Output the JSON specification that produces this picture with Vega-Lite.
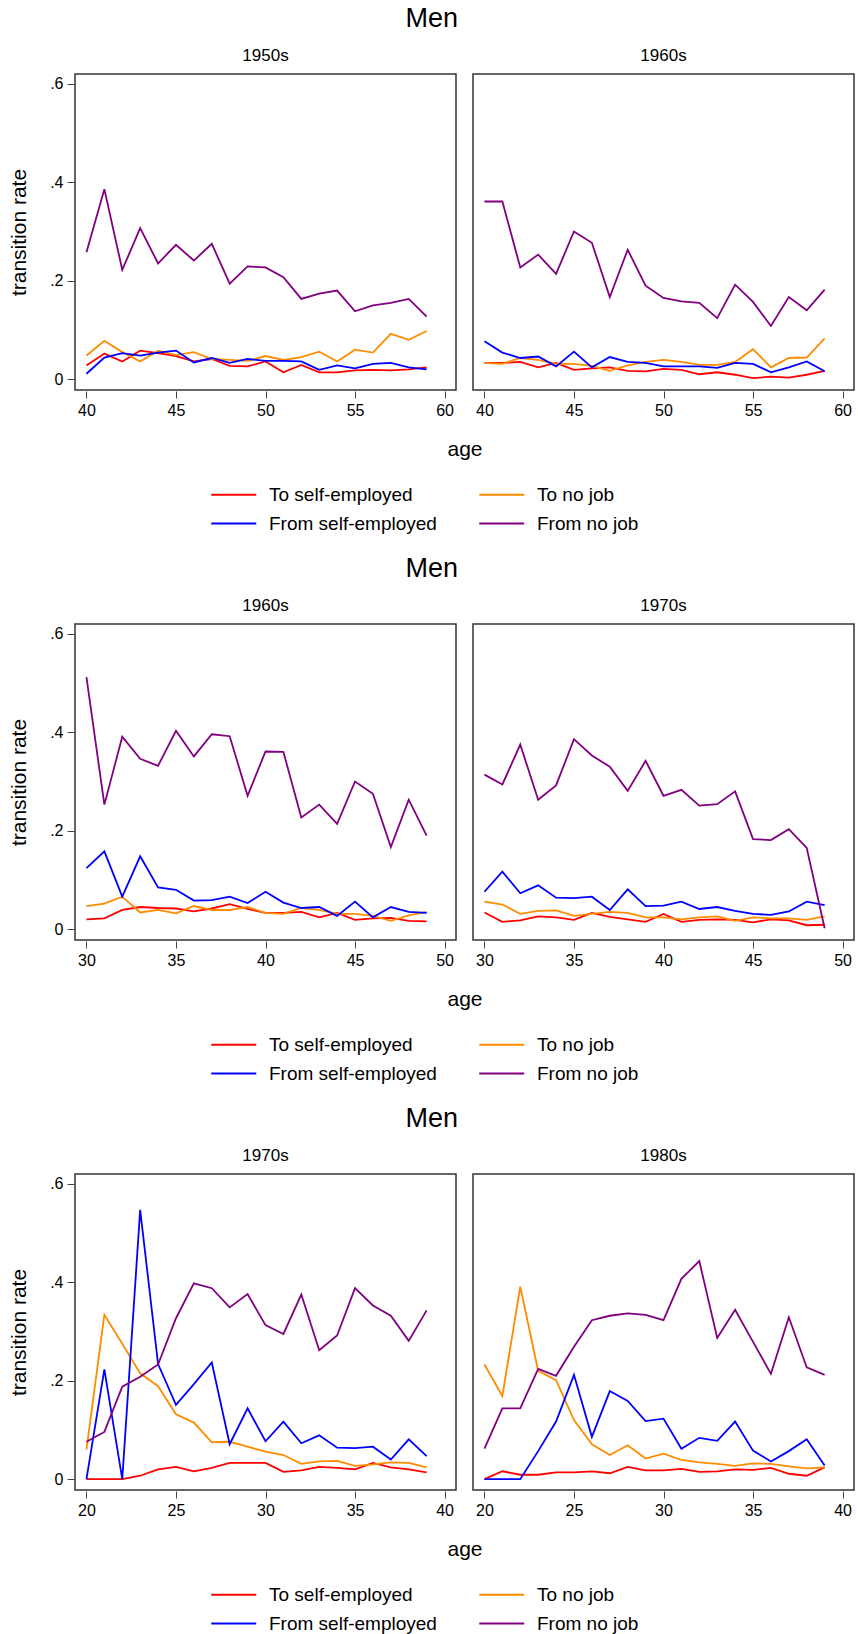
{
"$schema": "https://vega.github.io/schema/vega-lite/v6.json",
"padding": {"left": 8, "top": 5, "right": 0, "bottom": 0},
"background": "white",
"config": {
 "font": "Liberation Sans",
 "view": {"stroke": "#333333", "strokeWidth": 1.5},
 "axis": {"grid": false, "domain": false, "tickColor": "#444444", "tickSize": 7, "labelFontSize": 16, "labelColor": "#000000", "titleFontSize": 21, "titleFontWeight": "normal", "titleColor": "#000000", "labelPadding": 4},
 "title": {"fontSize": 27, "fontWeight": "normal", "color": "#000000", "offset": 14},
 "legend": {"symbolType": "M-1,0H3", "symbolSize": 506, "symbolStrokeWidth": 2, "labelFontSize": 19, "labelOffset": 34, "columns": 2, "columnPadding": 38, "rowPadding": 6, "padding": 0, "labelLimit": 300, "labelColor": "#000000"},
 "facet": {"spacing": 15},
 "concat": {"spacing": 21}
},
"data": {"values": [
{"b":1,"d":"1950s","a":40,"ts":0.028,"tn":0.048,"fs":0.011,"fn":0.258},
{"b":1,"d":"1950s","a":41,"ts":0.052,"tn":0.078,"fs":0.044,"fn":0.386},
{"b":1,"d":"1950s","a":42,"ts":0.036,"tn":0.055,"fs":0.053,"fn":0.222},
{"b":1,"d":"1950s","a":43,"ts":0.058,"tn":0.036,"fs":0.048,"fn":0.307},
{"b":1,"d":"1950s","a":44,"ts":0.053,"tn":0.058,"fs":0.054,"fn":0.235},
{"b":1,"d":"1950s","a":45,"ts":0.047,"tn":0.049,"fs":0.058,"fn":0.273},
{"b":1,"d":"1950s","a":46,"ts":0.036,"tn":0.055,"fs":0.034,"fn":0.241},
{"b":1,"d":"1950s","a":47,"ts":0.041,"tn":0.041,"fs":0.043,"fn":0.275},
{"b":1,"d":"1950s","a":48,"ts":0.027,"tn":0.039,"fs":0.033,"fn":0.194},
{"b":1,"d":"1950s","a":49,"ts":0.026,"tn":0.037,"fs":0.041,"fn":0.229},
{"b":1,"d":"1950s","a":50,"ts":0.036,"tn":0.047,"fs":0.037,"fn":0.227},
{"b":1,"d":"1950s","a":51,"ts":0.014,"tn":0.039,"fs":0.037,"fn":0.207},
{"b":1,"d":"1950s","a":52,"ts":0.029,"tn":0.045,"fs":0.036,"fn":0.163},
{"b":1,"d":"1950s","a":53,"ts":0.014,"tn":0.056,"fs":0.019,"fn":0.174},
{"b":1,"d":"1950s","a":54,"ts":0.014,"tn":0.036,"fs":0.028,"fn":0.180},
{"b":1,"d":"1950s","a":55,"ts":0.018,"tn":0.060,"fs":0.022,"fn":0.138},
{"b":1,"d":"1950s","a":56,"ts":0.019,"tn":0.054,"fs":0.031,"fn":0.150},
{"b":1,"d":"1950s","a":57,"ts":0.018,"tn":0.092,"fs":0.033,"fn":0.155},
{"b":1,"d":"1950s","a":58,"ts":0.020,"tn":0.080,"fs":0.024,"fn":0.163},
{"b":1,"d":"1950s","a":59,"ts":0.024,"tn":0.098,"fs":0.020,"fn":0.127},
{"b":1,"d":"1960s","a":40,"ts":0.033,"tn":0.033,"fs":0.077,"fn":0.361},
{"b":1,"d":"1960s","a":41,"ts":0.033,"tn":0.031,"fs":0.054,"fn":0.361},
{"b":1,"d":"1960s","a":42,"ts":0.035,"tn":0.043,"fs":0.043,"fn":0.227},
{"b":1,"d":"1960s","a":43,"ts":0.024,"tn":0.039,"fs":0.046,"fn":0.253},
{"b":1,"d":"1960s","a":44,"ts":0.033,"tn":0.031,"fs":0.026,"fn":0.214},
{"b":1,"d":"1960s","a":45,"ts":0.019,"tn":0.031,"fs":0.056,"fn":0.300},
{"b":1,"d":"1960s","a":46,"ts":0.022,"tn":0.027,"fs":0.024,"fn":0.277},
{"b":1,"d":"1960s","a":47,"ts":0.024,"tn":0.017,"fs":0.045,"fn":0.167},
{"b":1,"d":"1960s","a":48,"ts":0.017,"tn":0.028,"fs":0.035,"fn":0.263},
{"b":1,"d":"1960s","a":49,"ts":0.016,"tn":0.035,"fs":0.033,"fn":0.190},
{"b":1,"d":"1960s","a":50,"ts":0.021,"tn":0.039,"fs":0.026,"fn":0.165},
{"b":1,"d":"1960s","a":51,"ts":0.019,"tn":0.035,"fs":0.026,"fn":0.158},
{"b":1,"d":"1960s","a":52,"ts":0.010,"tn":0.029,"fs":0.026,"fn":0.155},
{"b":1,"d":"1960s","a":53,"ts":0.014,"tn":0.029,"fs":0.023,"fn":0.124},
{"b":1,"d":"1960s","a":54,"ts":0.009,"tn":0.035,"fs":0.033,"fn":0.192},
{"b":1,"d":"1960s","a":55,"ts":0.002,"tn":0.061,"fs":0.031,"fn":0.157},
{"b":1,"d":"1960s","a":56,"ts":0.005,"tn":0.024,"fs":0.014,"fn":0.108},
{"b":1,"d":"1960s","a":57,"ts":0.003,"tn":0.043,"fs":0.024,"fn":0.167},
{"b":1,"d":"1960s","a":58,"ts":0.009,"tn":0.044,"fs":0.036,"fn":0.140},
{"b":1,"d":"1960s","a":59,"ts":0.017,"tn":0.083,"fs":0.016,"fn":0.182},
{"b":2,"d":"1960s","a":30,"ts":0.020,"tn":0.047,"fs":0.124,"fn":0.512},
{"b":2,"d":"1960s","a":31,"ts":0.022,"tn":0.052,"fs":0.158,"fn":0.253},
{"b":2,"d":"1960s","a":32,"ts":0.039,"tn":0.066,"fs":0.066,"fn":0.391},
{"b":2,"d":"1960s","a":33,"ts":0.045,"tn":0.034,"fs":0.148,"fn":0.346},
{"b":2,"d":"1960s","a":34,"ts":0.043,"tn":0.039,"fs":0.085,"fn":0.332},
{"b":2,"d":"1960s","a":35,"ts":0.042,"tn":0.032,"fs":0.080,"fn":0.403},
{"b":2,"d":"1960s","a":36,"ts":0.036,"tn":0.047,"fs":0.058,"fn":0.351},
{"b":2,"d":"1960s","a":37,"ts":0.042,"tn":0.039,"fs":0.059,"fn":0.396},
{"b":2,"d":"1960s","a":38,"ts":0.051,"tn":0.039,"fs":0.066,"fn":0.392},
{"b":2,"d":"1960s","a":39,"ts":0.041,"tn":0.045,"fs":0.053,"fn":0.271},
{"b":2,"d":"1960s","a":40,"ts":0.033,"tn":0.033,"fs":0.076,"fn":0.361},
{"b":2,"d":"1960s","a":41,"ts":0.033,"tn":0.031,"fs":0.054,"fn":0.360},
{"b":2,"d":"1960s","a":42,"ts":0.035,"tn":0.043,"fs":0.043,"fn":0.227},
{"b":2,"d":"1960s","a":43,"ts":0.024,"tn":0.039,"fs":0.045,"fn":0.253},
{"b":2,"d":"1960s","a":44,"ts":0.033,"tn":0.031,"fs":0.027,"fn":0.214},
{"b":2,"d":"1960s","a":45,"ts":0.019,"tn":0.031,"fs":0.056,"fn":0.300},
{"b":2,"d":"1960s","a":46,"ts":0.022,"tn":0.027,"fs":0.024,"fn":0.275},
{"b":2,"d":"1960s","a":47,"ts":0.023,"tn":0.017,"fs":0.045,"fn":0.167},
{"b":2,"d":"1960s","a":48,"ts":0.017,"tn":0.028,"fs":0.035,"fn":0.263},
{"b":2,"d":"1960s","a":49,"ts":0.016,"tn":0.035,"fs":0.033,"fn":0.190},
{"b":2,"d":"1970s","a":30,"ts":0.034,"tn":0.056,"fs":0.076,"fn":0.314},
{"b":2,"d":"1970s","a":31,"ts":0.015,"tn":0.050,"fs":0.117,"fn":0.294},
{"b":2,"d":"1970s","a":32,"ts":0.018,"tn":0.031,"fs":0.073,"fn":0.375},
{"b":2,"d":"1970s","a":33,"ts":0.026,"tn":0.037,"fs":0.089,"fn":0.263},
{"b":2,"d":"1970s","a":34,"ts":0.024,"tn":0.038,"fs":0.064,"fn":0.292},
{"b":2,"d":"1970s","a":35,"ts":0.019,"tn":0.027,"fs":0.063,"fn":0.386},
{"b":2,"d":"1970s","a":36,"ts":0.033,"tn":0.031,"fs":0.066,"fn":0.353},
{"b":2,"d":"1970s","a":37,"ts":0.025,"tn":0.035,"fs":0.039,"fn":0.330},
{"b":2,"d":"1970s","a":38,"ts":0.020,"tn":0.033,"fs":0.081,"fn":0.281},
{"b":2,"d":"1970s","a":39,"ts":0.015,"tn":0.024,"fs":0.047,"fn":0.342},
{"b":2,"d":"1970s","a":40,"ts":0.031,"tn":0.024,"fs":0.048,"fn":0.271},
{"b":2,"d":"1970s","a":41,"ts":0.015,"tn":0.020,"fs":0.056,"fn":0.283},
{"b":2,"d":"1970s","a":42,"ts":0.019,"tn":0.024,"fs":0.041,"fn":0.251},
{"b":2,"d":"1970s","a":43,"ts":0.020,"tn":0.026,"fs":0.045,"fn":0.254},
{"b":2,"d":"1970s","a":44,"ts":0.019,"tn":0.017,"fs":0.037,"fn":0.280},
{"b":2,"d":"1970s","a":45,"ts":0.014,"tn":0.024,"fs":0.031,"fn":0.183},
{"b":2,"d":"1970s","a":46,"ts":0.020,"tn":0.022,"fs":0.029,"fn":0.181},
{"b":2,"d":"1970s","a":47,"ts":0.018,"tn":0.022,"fs":0.036,"fn":0.203},
{"b":2,"d":"1970s","a":48,"ts":0.008,"tn":0.019,"fs":0.056,"fn":0.165},
{"b":2,"d":"1970s","a":49,"ts":0.009,"tn":0.026,"fs":0.049,"fn":0.002},
{"b":3,"d":"1970s","a":20,"ts":0.000,"tn":0.060,"fs":0.000,"fn":0.076},
{"b":3,"d":"1970s","a":21,"ts":0.000,"tn":0.334,"fs":0.223,"fn":0.096},
{"b":3,"d":"1970s","a":22,"ts":0.000,"tn":0.275,"fs":0.000,"fn":0.188},
{"b":3,"d":"1970s","a":23,"ts":0.007,"tn":0.215,"fs":0.547,"fn":0.208},
{"b":3,"d":"1970s","a":24,"ts":0.020,"tn":0.189,"fs":0.234,"fn":0.233},
{"b":3,"d":"1970s","a":25,"ts":0.025,"tn":0.132,"fs":0.151,"fn":0.327},
{"b":3,"d":"1970s","a":26,"ts":0.016,"tn":0.115,"fs":0.193,"fn":0.398},
{"b":3,"d":"1970s","a":27,"ts":0.023,"tn":0.075,"fs":0.237,"fn":0.388},
{"b":3,"d":"1970s","a":28,"ts":0.033,"tn":0.076,"fs":0.071,"fn":0.349},
{"b":3,"d":"1970s","a":29,"ts":0.033,"tn":0.066,"fs":0.144,"fn":0.376},
{"b":3,"d":"1970s","a":30,"ts":0.033,"tn":0.056,"fs":0.077,"fn":0.313},
{"b":3,"d":"1970s","a":31,"ts":0.015,"tn":0.049,"fs":0.117,"fn":0.295},
{"b":3,"d":"1970s","a":32,"ts":0.018,"tn":0.031,"fs":0.073,"fn":0.375},
{"b":3,"d":"1970s","a":33,"ts":0.025,"tn":0.036,"fs":0.089,"fn":0.262},
{"b":3,"d":"1970s","a":34,"ts":0.023,"tn":0.037,"fs":0.064,"fn":0.292},
{"b":3,"d":"1970s","a":35,"ts":0.020,"tn":0.027,"fs":0.063,"fn":0.388},
{"b":3,"d":"1970s","a":36,"ts":0.033,"tn":0.030,"fs":0.066,"fn":0.353},
{"b":3,"d":"1970s","a":37,"ts":0.024,"tn":0.034,"fs":0.040,"fn":0.332},
{"b":3,"d":"1970s","a":38,"ts":0.020,"tn":0.033,"fs":0.081,"fn":0.281},
{"b":3,"d":"1970s","a":39,"ts":0.014,"tn":0.024,"fs":0.047,"fn":0.343},
{"b":3,"d":"1980s","a":20,"ts":0.000,"tn":0.233,"fs":0.000,"fn":0.062},
{"b":3,"d":"1980s","a":21,"ts":0.016,"tn":0.169,"fs":0.000,"fn":0.144},
{"b":3,"d":"1980s","a":22,"ts":0.009,"tn":0.391,"fs":0.000,"fn":0.144},
{"b":3,"d":"1980s","a":23,"ts":0.009,"tn":0.220,"fs":0.057,"fn":0.224},
{"b":3,"d":"1980s","a":24,"ts":0.014,"tn":0.201,"fs":0.117,"fn":0.210},
{"b":3,"d":"1980s","a":25,"ts":0.014,"tn":0.120,"fs":0.212,"fn":0.269},
{"b":3,"d":"1980s","a":26,"ts":0.016,"tn":0.071,"fs":0.086,"fn":0.323},
{"b":3,"d":"1980s","a":27,"ts":0.012,"tn":0.049,"fs":0.179,"fn":0.332},
{"b":3,"d":"1980s","a":28,"ts":0.025,"tn":0.069,"fs":0.159,"fn":0.337},
{"b":3,"d":"1980s","a":29,"ts":0.018,"tn":0.042,"fs":0.118,"fn":0.334},
{"b":3,"d":"1980s","a":30,"ts":0.018,"tn":0.052,"fs":0.123,"fn":0.323},
{"b":3,"d":"1980s","a":31,"ts":0.021,"tn":0.039,"fs":0.062,"fn":0.407},
{"b":3,"d":"1980s","a":32,"ts":0.015,"tn":0.034,"fs":0.084,"fn":0.443},
{"b":3,"d":"1980s","a":33,"ts":0.016,"tn":0.031,"fs":0.078,"fn":0.287},
{"b":3,"d":"1980s","a":34,"ts":0.020,"tn":0.027,"fs":0.117,"fn":0.344},
{"b":3,"d":"1980s","a":35,"ts":0.019,"tn":0.032,"fs":0.058,"fn":0.279},
{"b":3,"d":"1980s","a":36,"ts":0.023,"tn":0.031,"fs":0.036,"fn":0.214},
{"b":3,"d":"1980s","a":37,"ts":0.011,"tn":0.026,"fs":0.057,"fn":0.329},
{"b":3,"d":"1980s","a":38,"ts":0.007,"tn":0.022,"fs":0.081,"fn":0.227},
{"b":3,"d":"1980s","a":39,"ts":0.024,"tn":0.024,"fs":0.028,"fn":0.212}
]},
"resolve": {"scale": {"color": "independent"}, "legend": {"color": "independent"}},
"vconcat": [
{
 "title": {"text": "Men", "anchor": "middle"},
 "transform": [{"filter": "datum.b == 1"}, {"fold": ["ts", "tn", "fs", "fn"], "as": ["s", "v"]}],
 "facet": {"column": {"field": "d", "type": "nominal", "title": "age", "header": {"labelOrient": "top", "titleOrient": "bottom", "labelFontSize": 17, "titleFontSize": 21, "titleFontWeight": "normal", "labelPadding": 8, "titlePadding": 11}}},
 "spec": {
  "width": 381, "height": 316,
  "mark": {"type": "line", "strokeWidth": 1.8},
  "encoding": {
   "x": {"field": "a", "type": "quantitative", "scale": {"domain": [39.36, 60.64], "nice": false, "zero": false}, "axis": {"values": [40, 45, 50, 55, 60], "title": null}},
   "y": {"field": "v", "type": "quantitative", "scale": {"domain": [-0.022, 0.62], "nice": false, "zero": false}, "axis": {"values": [0, 0.2, 0.4, 0.6], "title": "transition rate", "titlePadding": 20, "labelExpr": "datum.value == 0 ? '0' : replace(format(datum.value, '.1f'), '0.', '.')"}},
   "color": {"field": "s", "type": "nominal", "scale": {"domain": ["ts", "fs", "tn", "fn"], "range": ["#ff0000", "#0000ff", "#ff8c00", "#800080"]}, "legend": {"title": null, "orient": "none", "legendX": 135, "legendY": 408, "labelExpr": "datum.label == 'ts' ? 'To self-employed' : datum.label == 'tn' ? 'To no job' : datum.label == 'fs' ? 'From self-employed' : 'From no job'"}}
  }
 }
},
{
 "title": {"text": "Men", "anchor": "middle"},
 "transform": [{"filter": "datum.b == 2"}, {"fold": ["ts", "tn", "fs", "fn"], "as": ["s", "v"]}],
 "facet": {"column": {"field": "d", "type": "nominal", "title": "age", "header": {"labelOrient": "top", "titleOrient": "bottom", "labelFontSize": 17, "titleFontSize": 21, "titleFontWeight": "normal", "labelPadding": 8, "titlePadding": 11}}},
 "spec": {
  "width": 381, "height": 316,
  "mark": {"type": "line", "strokeWidth": 1.8},
  "encoding": {
   "x": {"field": "a", "type": "quantitative", "scale": {"domain": [29.36, 50.64], "nice": false, "zero": false}, "axis": {"values": [30, 35, 40, 45, 50], "title": null}},
   "y": {"field": "v", "type": "quantitative", "scale": {"domain": [-0.022, 0.62], "nice": false, "zero": false}, "axis": {"values": [0, 0.2, 0.4, 0.6], "title": "transition rate", "titlePadding": 20, "labelExpr": "datum.value == 0 ? '0' : replace(format(datum.value, '.1f'), '0.', '.')"}},
   "color": {"field": "s", "type": "nominal", "scale": {"domain": ["ts", "fs", "tn", "fn"], "range": ["#ff0000", "#0000ff", "#ff8c00", "#800080"]}, "legend": {"title": null, "orient": "none", "legendX": 135, "legendY": 408, "labelExpr": "datum.label == 'ts' ? 'To self-employed' : datum.label == 'tn' ? 'To no job' : datum.label == 'fs' ? 'From self-employed' : 'From no job'"}}
  }
 }
},
{
 "title": {"text": "Men", "anchor": "middle"},
 "transform": [{"filter": "datum.b == 3"}, {"fold": ["ts", "tn", "fs", "fn"], "as": ["s", "v"]}],
 "facet": {"column": {"field": "d", "type": "nominal", "title": "age", "header": {"labelOrient": "top", "titleOrient": "bottom", "labelFontSize": 17, "titleFontSize": 21, "titleFontWeight": "normal", "labelPadding": 8, "titlePadding": 11}}},
 "spec": {
  "width": 381, "height": 316,
  "mark": {"type": "line", "strokeWidth": 1.8},
  "encoding": {
   "x": {"field": "a", "type": "quantitative", "scale": {"domain": [19.36, 40.64], "nice": false, "zero": false}, "axis": {"values": [20, 25, 30, 35, 40], "title": null}},
   "y": {"field": "v", "type": "quantitative", "scale": {"domain": [-0.022, 0.62], "nice": false, "zero": false}, "axis": {"values": [0, 0.2, 0.4, 0.6], "title": "transition rate", "titlePadding": 20, "labelExpr": "datum.value == 0 ? '0' : replace(format(datum.value, '.1f'), '0.', '.')"}},
   "color": {"field": "s", "type": "nominal", "scale": {"domain": ["ts", "fs", "tn", "fn"], "range": ["#ff0000", "#0000ff", "#ff8c00", "#800080"]}, "legend": {"title": null, "orient": "none", "legendX": 135, "legendY": 408, "labelExpr": "datum.label == 'ts' ? 'To self-employed' : datum.label == 'tn' ? 'To no job' : datum.label == 'fs' ? 'From self-employed' : 'From no job'"}}
  }
 }
}
]
}
